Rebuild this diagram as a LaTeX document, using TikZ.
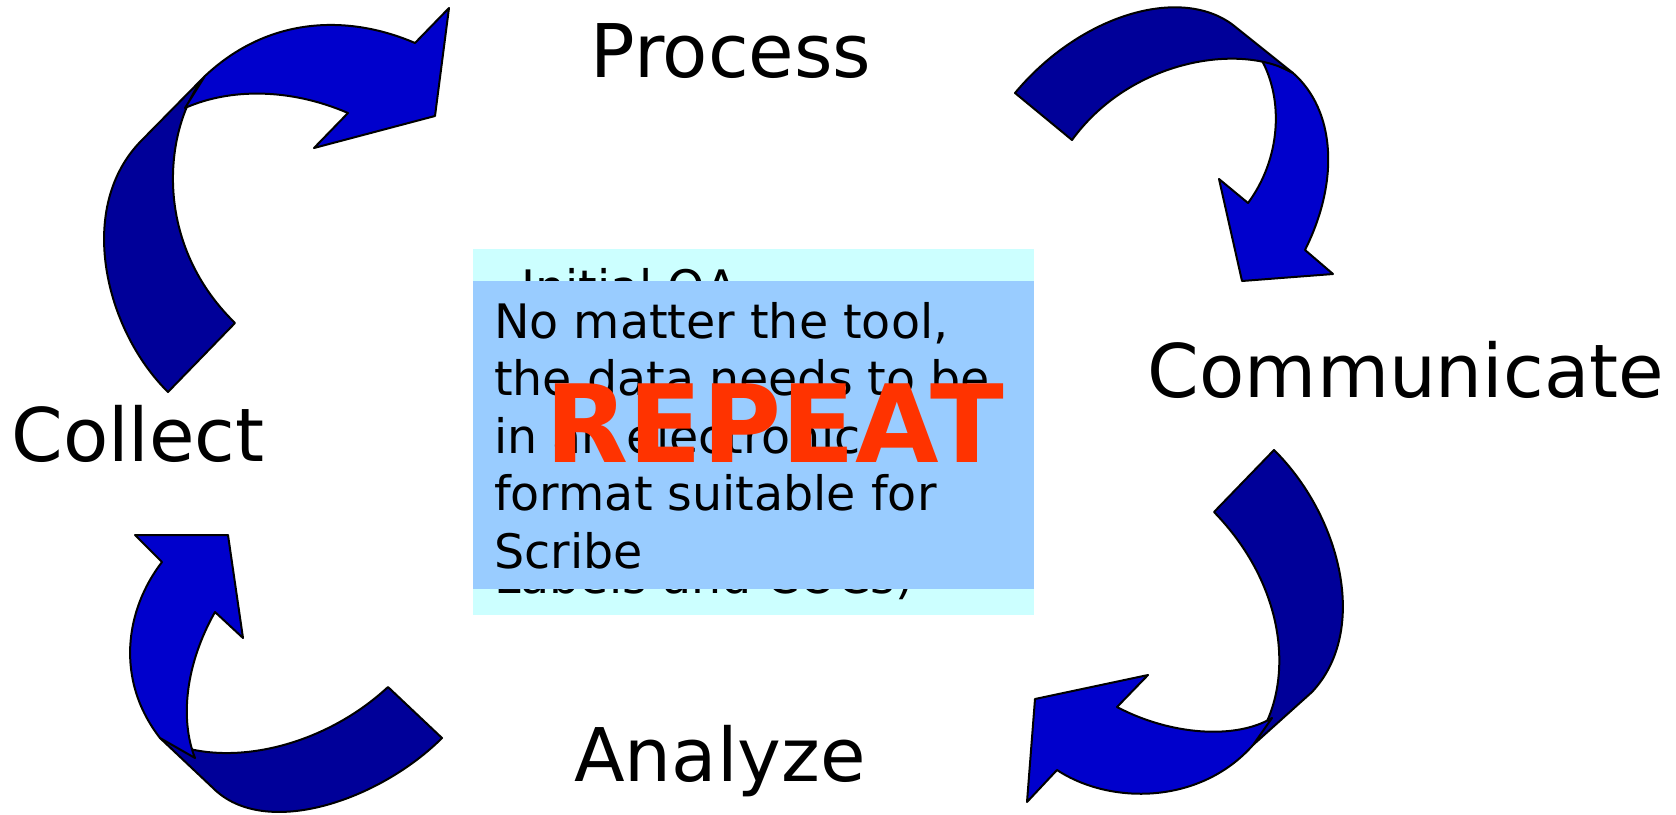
\documentclass[tikz,border=0pt]{standalone}
\usepackage{fontspec}
\setmainfont{DejaVu Sans}
\usetikzlibrary{positioning}

\definecolor{backblue}{HTML}{000099}
\definecolor{frontblue}{HTML}{0000CC}
\definecolor{notecyan}{HTML}{CCFFFF}
\definecolor{noteblue}{HTML}{99CCFF}
\definecolor{repeatred}{HTML}{FF3300}

\begin{document}
\begin{tikzpicture}[
    x=1pt, y=-1pt,
    stage/.style={
      % The names round the cycle
      font=\fontsize{74}{74}\selectfont,
      anchor=base,
      inner sep=0pt,
    },
    backpart/.style={
      % the tail of a curved arrow, the darker layer
      fill=backblue,
      draw=black,
      line width=2pt,
      line join=round,
    },
    frontpart/.style={
      % the head of a curved arrow, the lighter layer
      fill=frontblue,
      draw=black,
      line width=2pt,
      line join=round,
    },
    notebox/.style={
      rectangle,
      fill=notecyan,
      minimum width=561pt,
      minimum height=366pt,
      inner sep=0pt,
    },
    toolbox/.style={
      rectangle,
      fill=noteblue,
      minimum width=561pt,
      minimum height=308pt,
      inner sep=0pt,
    },
    notetext/.style={
      font=\fontsize{47.5}{57.5}\selectfont,
      align=left,
      inner sep=0pt,
      anchor=base west,
    }]

    \useasboundingbox (0,0) rectangle (1676,814);

    % the boxes in the middle
    \node[notebox] (notes) at (753.5,432) {};
    \node[notetext] (qa) at (521,304) {Initial QA};
    \node[notetext] (labels) at (494,593) {Labels and COCs)};
    \node[toolbox] (tool) at (753.5,435) {};
    % base of a node with lines is the base of its last line
    \node[notetext] (tooltext) at (494,568)
          {No matter the tool,\\the data needs to be\\in an electronic\\format suitable for\\Scribe};
    \node[anchor=base, inner sep=0pt, text=repeatred,
          font=\fontsize{108}{108}\selectfont\bfseries] (repeat) at (775,462) {REPEAT};

    % the four stages
    \node[stage] (process) at (731,77) {Process};
    \node[stage] (communicate) at (1406,397) {Communicate};
    \node[stage] (analyze) at (720,781) {Analyze};
    \node[stage] (collect) at (138,461) {Collect};

    % Collect -> Process
    \path[backpart] (168,392) .. controls (105,330) and (75,207) .. (142,140) -- (205,76)
          .. controls (165,125) and (150,240) .. (235,323) -- cycle;
    \path[frontpart] (205,76) .. controls (270,15) and (350,15) .. (415,43)
          -- (449,8) -- (435,116) -- (314,148) -- (348,113)
          .. controls (290,88) and (230,88) .. (185,108) -- cycle;

    % Process -> Communicate
    \path[frontpart] (1260,57) .. controls (1285,100) and (1280,160) .. (1248,203)
          -- (1219,179) -- (1242,281) -- (1333,274) -- (1305,250)
          .. controls (1340,180) and (1335,110) .. (1293,73) -- cycle;
    \path[backpart] (1015,93) .. controls (1080,15) and (1180,-15) .. (1233,25) -- (1293,73)
          .. controls (1240,42) and (1130,60) .. (1072,140) -- cycle;

    % Communicate -> Analyze
    \path[backpart] (1274,450) .. controls (1340,515) and (1370,630) .. (1312,692) -- (1253,745)
          .. controls (1295,690) and (1290,590) .. (1214,512) -- cycle;
    \path[frontpart] (1117,707) .. controls (1170,735) and (1235,740) .. (1272,718) -- (1253,745)
          .. controls (1200,805) and (1110,805) .. (1057,770)
          -- (1027,802) -- (1035,699) -- (1148,675) -- cycle;

    % Analyze -> Collect
    \path[backpart] (442,738) .. controls (380,800) and (265,840) .. (213,788) -- (160,738)
          .. controls (220,770) and (320,750) .. (388,687) -- cycle;
    \path[frontpart] (160,738) .. controls (115,680) and (125,610) .. (162,562)
          -- (135,535) -- (228,535) -- (243,638) -- (215,612)
          .. controls (185,665) and (180,720) .. (195,758) -- cycle;
  \end{tikzpicture}
\end{document}
